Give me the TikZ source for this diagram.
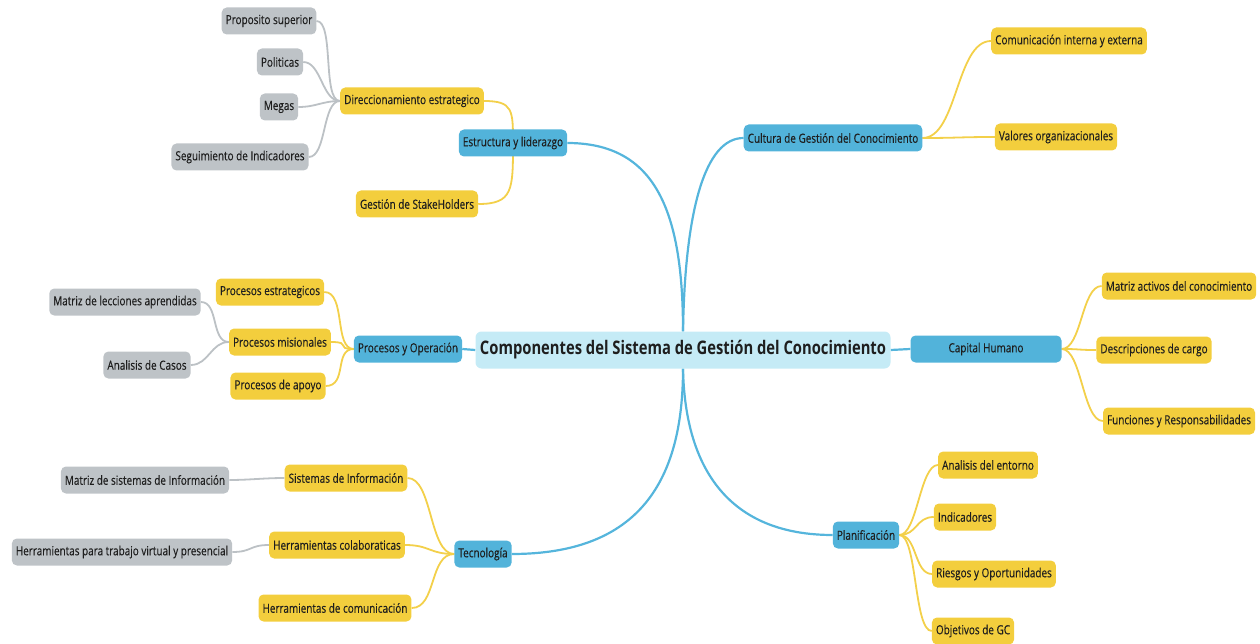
\documentclass[tikz,border=0pt]{standalone}
\usepackage{fontspec}
\setmainfont{Open Sans}[FakeStretch=0.79]
\newfontfamily\labelfont{Open Sans}[FakeStretch=0.79, FakeBold=0.25]
\usetikzlibrary{backgrounds}
\definecolor{bluefill}{HTML}{52B3DA}
\definecolor{bluelink}{HTML}{55B5DC}
\definecolor{rootfill}{HTML}{C5EBF6}
\definecolor{yellowfill}{HTML}{F3CE3D}
\definecolor{yellowlink}{HTML}{F3D04A}
\definecolor{grayfill}{HTML}{BEC3C7}
\definecolor{graylink}{HTML}{BCC1C5}
\definecolor{ink}{HTML}{1E1E1E}
\tikzset{
  box/.style={rounded corners=5pt, minimum height=27pt, inner xsep=4pt, inner ysep=0pt,
    text=ink, font=\labelfont\fontsize{12.6}{14}\selectfont},
  gbox/.style={box, fill=grayfill},
  ybox/.style={box, fill=yellowfill},
  bbox/.style={box, fill=bluefill},
  rootbox/.style={rounded corners=6pt, fill=rootfill, minimum height=37pt, minimum width=415pt,
    inner xsep=4pt, text=ink, font=\fontsize{18.7}{20}\selectfont\bfseries},
  blink/.style={draw=bluelink, line width=2.2pt},
  ylink/.style={draw=yellowlink, line width=1.8pt},
  glink/.style={draw=graylink, line width=1.8pt},
}
\begin{document}
\begin{tikzpicture}[x=1pt,y=-1pt]
\useasboundingbox (0,0) rectangle (1260,644);

% root
\node[rootbox] (root) at (683,350) {Componentes del Sistema de Gestión del Conocimiento};

% main branches
\node[bbox] (est) at (513,143) {Estructura y liderazgo};
\node[bbox] (cul) at (833,138) {Cultura de Gestión del Conocimiento};
\node[bbox] (pro) at (408,349) {Procesos y Operación};
\node[bbox, minimum width=151pt] (cap) at (986,349) {Capital Humano};
\node[bbox] (tec) at (483,554) {Tecnología};
\node[bbox] (pla) at (866,535) {Planificación};

% second level
\node[ybox] (dir) at (412,101) {Direccionamiento estrategico};
\node[ybox] (stk) at (417,204) {Gestión de StakeHolders};
\node[ybox] (pes) at (270,292) {Procesos estrategicos};
\node[ybox] (pmi) at (280,342) {Procesos misionales};
\node[ybox] (pap) at (278,386) {Procesos de apoyo};
\node[ybox] (sis) at (346,478) {Sistemas de Información};
\node[ybox] (hco) at (337,545) {Herramientas colaboraticas};
\node[ybox] (hcm) at (335,608) {Herramientas de comunicación};
\node[ybox] (com) at (1069,41) {Comunicación interna y externa};
\node[ybox] (val) at (1056,137) {Valores organizacionales};
\node[ybox] (mac) at (1179,286) {Matriz activos del conocimiento};
\node[ybox] (des) at (1154,350) {Descripciones de cargo};
\node[ybox] (fun) at (1179,421) {Funciones y Responsabilidades};
\node[ybox] (ana) at (988,465) {Analisis del entorno};
\node[ybox] (ind) at (965,517) {Indicadores};
\node[ybox] (rie) at (994,574) {Riesgos y Oportunidades};
\node[ybox] (obj) at (973,631) {Objetivos de GC};

% third level
\node[gbox] (prs) at (269,21) {Proposito superior};
\node[gbox] (pol) at (280,62) {Politicas};
\node[gbox] (meg) at (279,107) {Megas};
\node[gbox] (seg) at (240,157) {Seguimiento de Indicadores};
\node[gbox] (mle) at (125,302) {Matriz de lecciones aprendidas};
\node[gbox] (aca) at (147,365) {Analisis de Casos};
\node[gbox] (msi) at (145,480) {Matriz de sistemas de Información};
\node[gbox] (htv) at (122,552) {Herramientas para trabajo virtual y presencial};

\begin{scope}[on background layer]
  % root to main branches
  \draw[blink] (root.north) .. controls (683,210) and (655,143) .. (est.east);
  \draw[blink] (root.north) .. controls (685,210) and (705,138) .. (cul.west);
  \draw[blink] (root.south) .. controls (683,480) and (640,554) .. (tec.east);
  \draw[blink] (root.south) .. controls (685,470) and (730,535) .. (pla.west);
  \draw[blink] (root.west) -- (pro.east);
  \draw[blink] (root.east) -- (cap.west);

  % Estructura y liderazgo
  \draw[ylink] (dir.east) .. controls (513,101) and (513,110) .. (est.center);
  \draw[ylink] (stk.east) .. controls (513,204) and (513,190) .. (est.center);

  % Procesos y Operacion
  \foreach \c in {pes,pmi,pap}
    \draw[ylink] (\c.east) .. controls +(22,0) and +(-20,0) .. (pro.west);

  % Tecnologia
  \foreach \c in {sis,hco,hcm}
    \draw[ylink] (\c.east) .. controls +(25,0) and +(-25,0) .. (tec.west);

  % Cultura
  \foreach \c in {com,val}
    \draw[ylink] (cul.east) .. controls +(35,0) and +(-35,0) .. (\c.west);

  % Capital Humano
  \foreach \c in {mac,des,fun}
    \draw[ylink] (cap.east) .. controls +(20,0) and +(-20,0) .. (\c.west);

  % Planificacion
  \foreach \c in {ana,ind,rie,obj}
    \draw[ylink] (pla.east) .. controls +(18,0) and +(-18,0) .. (\c.west);

  % Direccionamiento estrategico
  \foreach \c in {prs,pol,meg,seg}
    \draw[glink] (\c.east) .. controls +(18,0) and +(-18,0) .. (dir.west);

  % Procesos misionales
  \foreach \c in {mle,aca}
    \draw[glink] (\c.east) .. controls +(18,0) and +(-18,0) .. (pmi.west);

  \draw[glink] (msi.east) .. controls +(20,0) and +(-20,0) .. (sis.west);
  \draw[glink] (htv.east) .. controls +(20,0) and +(-20,0) .. (hco.west);
\end{scope}
\end{tikzpicture}
\end{document}
